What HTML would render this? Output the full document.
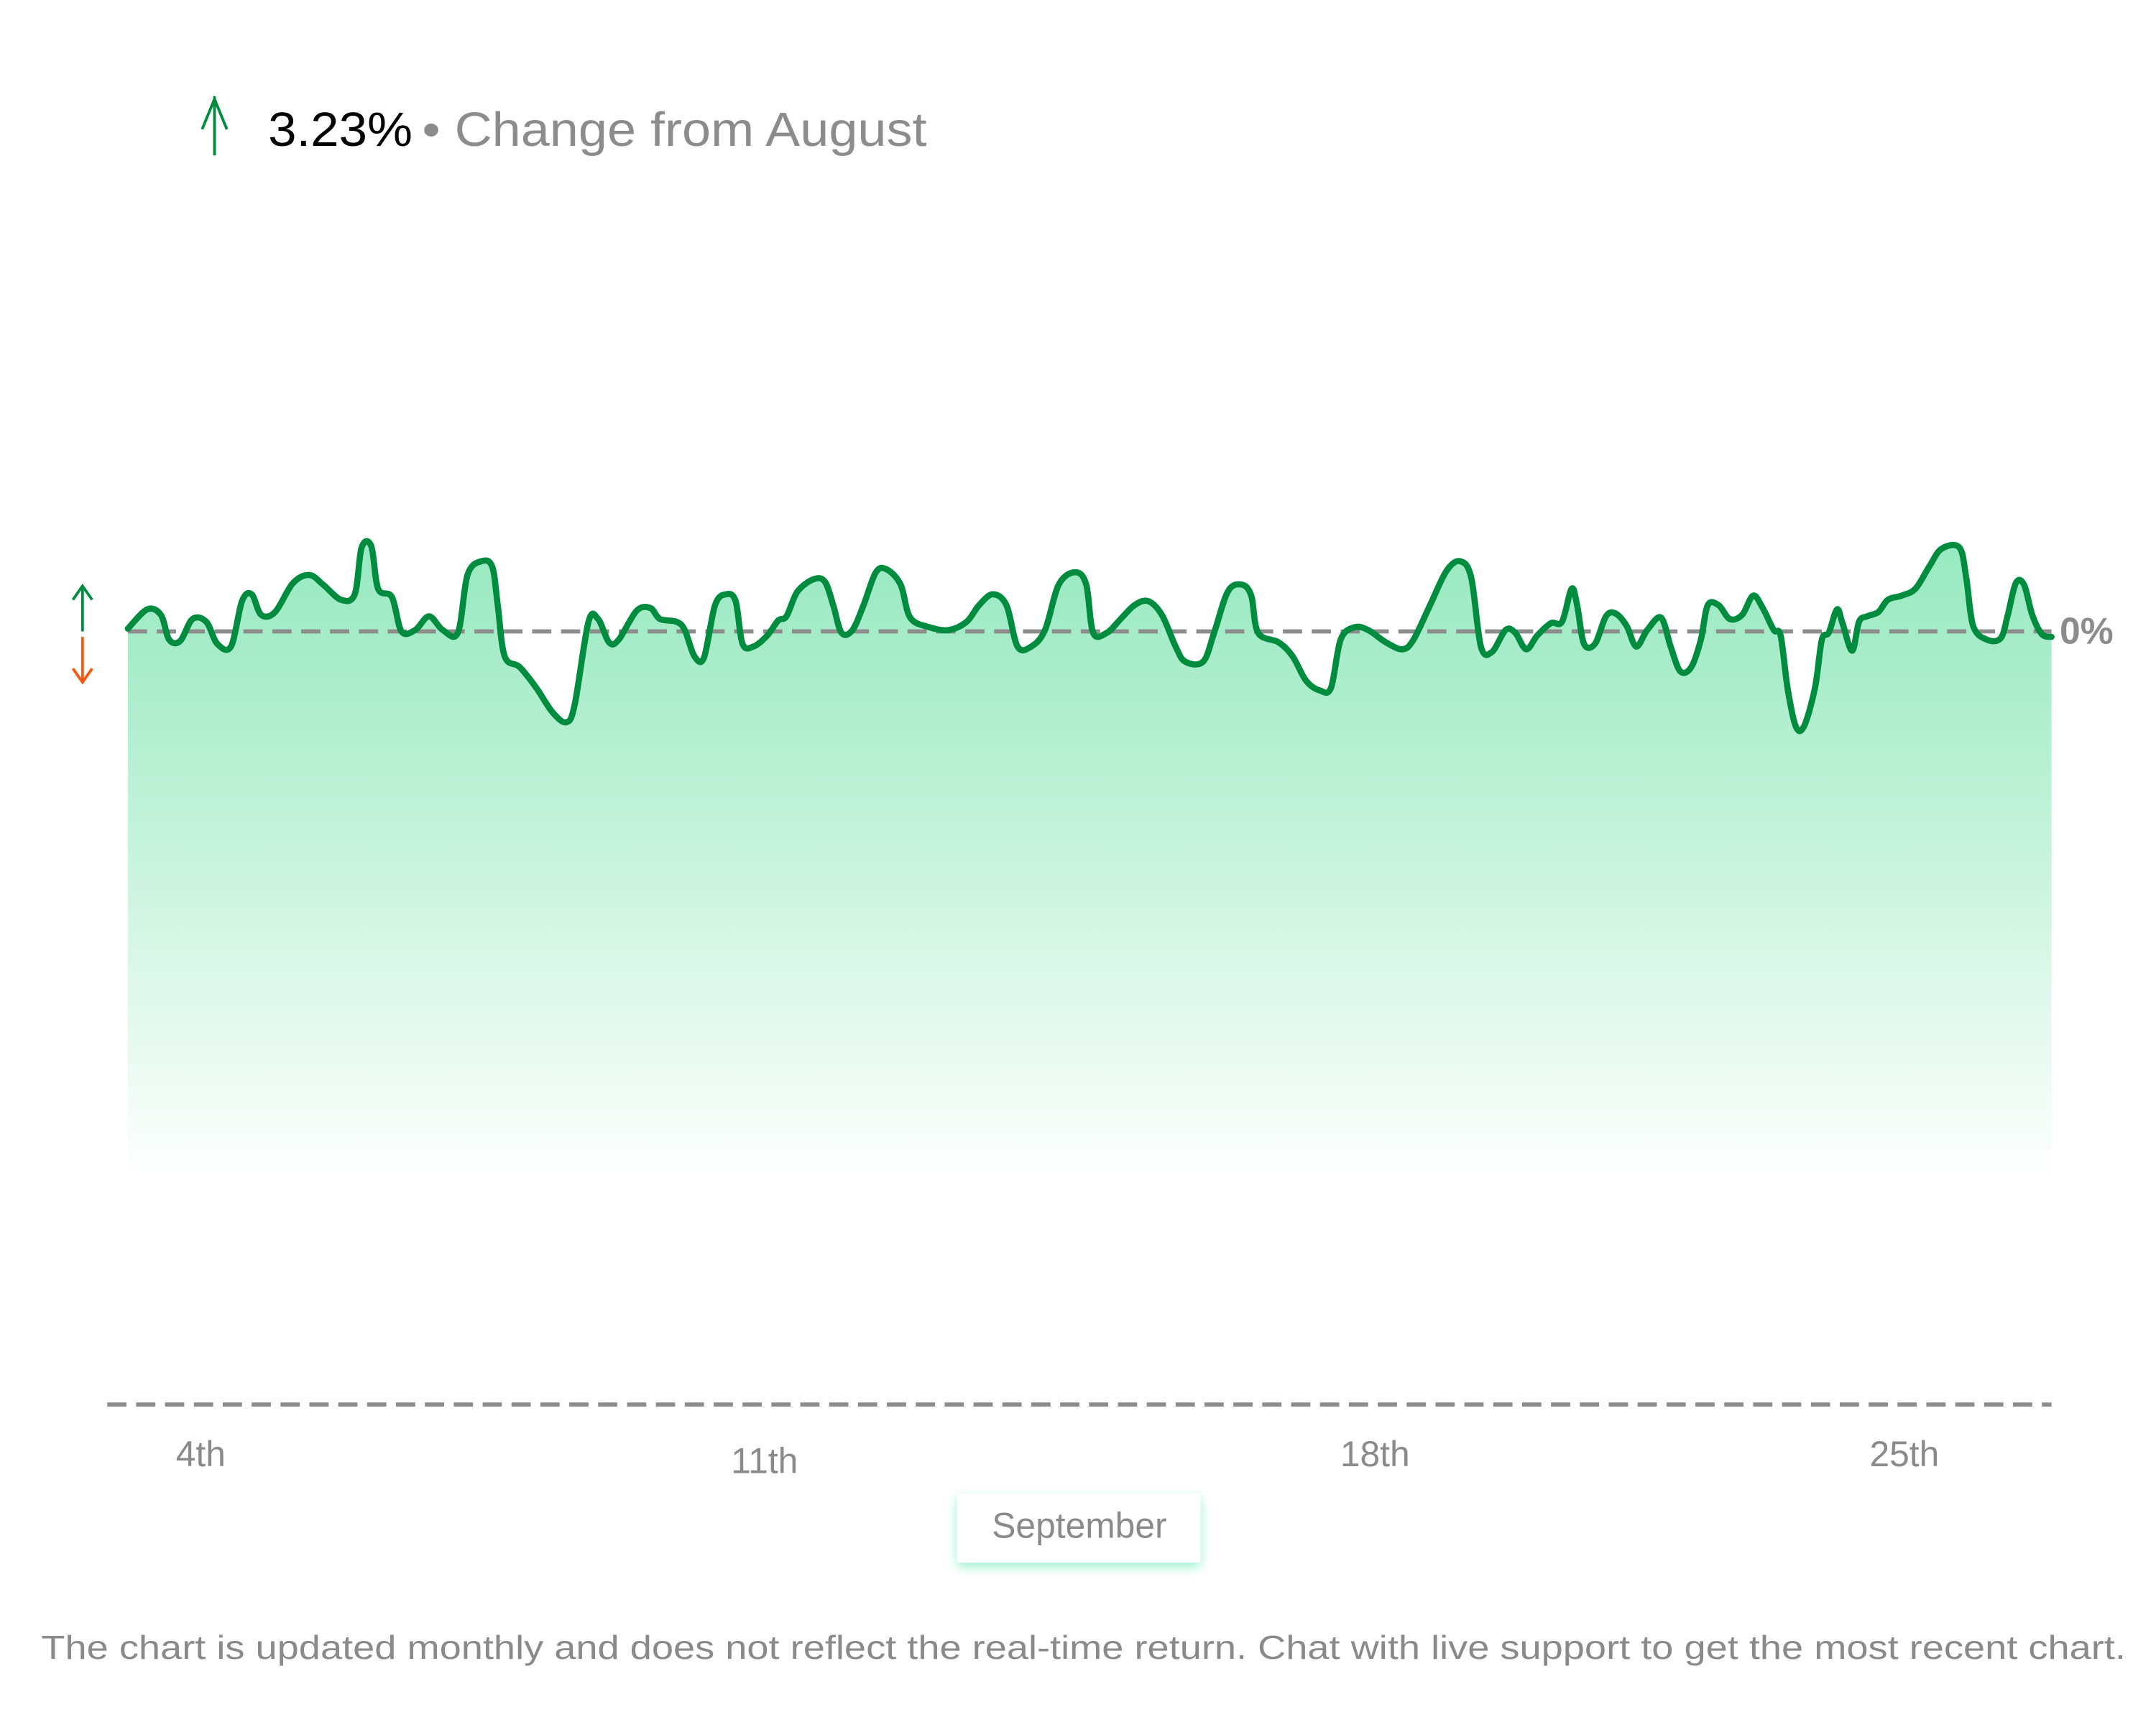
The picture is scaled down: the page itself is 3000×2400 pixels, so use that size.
<!DOCTYPE html>
<html><head><meta charset="utf-8"><style>
html,body{margin:0;padding:0;background:#fff;}
svg{display:block;}
text{font-family:"Liberation Sans",sans-serif;}
</style></head><body>
<svg id="s" width="3000" height="2400" viewBox="0 0 1568 1254" preserveAspectRatio="none" xmlns="http://www.w3.org/2000/svg">
<defs>
<linearGradient id="g" x1="0" y1="0" x2="0" y2="1" gradientUnits="userSpaceOnUse" gradientTransform="" >
</linearGradient>
<linearGradient id="fg" x1="0" y1="395" x2="0" y2="860" gradientUnits="userSpaceOnUse">
<stop offset="0" stop-color="#97e9c0"/>
<stop offset="0.3" stop-color="#b3efd0"/>
<stop offset="1" stop-color="#ffffff"/>
</linearGradient>
<filter id="sh" x="-20%" y="-50%" width="140%" height="200%">
<feDropShadow dx="0" dy="3" stdDeviation="4" flood-color="#7ff0bf" flood-opacity="0.8"/>
</filter>
</defs>
<path id="fill" fill="url(#fg)" stroke="none"/>
<line x1="93" y1="459" x2="1492" y2="459" stroke="#8c8c8c" stroke-width="3" stroke-dasharray="14 7"/>
<line x1="78" y1="1021" x2="1492" y2="1021" stroke="#8c8c8c" stroke-width="3" stroke-dasharray="14 7"/>
<path id="ln" fill="none" stroke="#008c3f" stroke-width="4.5" stroke-linejoin="round" stroke-linecap="round"/>
<text x="1498" y="468" font-size="27" font-weight="bold" fill="#8c8c8c">0%</text>
<!-- small arrows -->
<g stroke="#008c3f" stroke-width="2" fill="none"><line x1="60" y1="426" x2="60" y2="459"/><polyline points="53,436 60,426 67,436"/></g>
<g stroke="#f05a14" stroke-width="2" fill="none"><line x1="60" y1="463" x2="60" y2="496"/><polyline points="53,486 60,496 67,486"/></g>
<!-- header -->
<g stroke="#008c3f" stroke-width="2" fill="none"><line x1="156" y1="70" x2="156" y2="113"/><polyline points="147,94 156,72 165,94"/></g>
<text x="195" y="106" font-size="35" fill="#000" textLength="105" lengthAdjust="spacingAndGlyphs">3.23%</text>
<text x="307" y="106" font-size="35" fill="#8c8c8c" textLength="367" lengthAdjust="spacingAndGlyphs">• Change from August</text>
<!-- ticks -->
<g font-size="26" fill="#8a8a8a" text-anchor="middle">
<text x="146" y="1066">4th</text>
<text x="556" y="1071">11th</text>
<text x="1000" y="1066">18th</text>
<text x="1385" y="1066">25th</text>
</g>
<rect x="696" y="1086" width="177" height="50" fill="#fff" filter="url(#sh)"/>
<text x="785" y="1118" font-size="26" fill="#8a8a8a" text-anchor="middle">September</text>
<text x="788" y="1206" font-size="24" fill="#8a8a8a" text-anchor="middle" textLength="1516" lengthAdjust="spacingAndGlyphs">The chart is updated monthly and does not reflect the real-time return. Chat with live support to get the most recent chart.</text>
</svg>
<script>
var p=[93,457,107,443,117,447,123,465,131,466,140,450,150,452,158,468,168,470,176,437,183,432,190,447,200,445,213,424,225,418,235,425,248,436,258,432,263,398,270,397,275,428,285,434,292,459,302,458,312,448,322,458,333,460,340,418,350,408,358,412,362,440,367,477,378,485,390,500,402,518,412,525,418,512,428,452,435,450,443,467,450,465,463,444,473,442,480,450,492,452,498,458,505,477,512,478,520,440,528,432,535,437,540,468,548,470,558,462,566,451,572,448,580,430,592,421,600,423,606,440,612,460,620,458,628,440,637,416,645,414,655,425,662,449,676,456,690,458,703,452,712,440,722,432,732,440,740,470,750,470,760,458,770,425,782,416,790,425,795,460,805,460,815,450,825,440,835,437,845,447,855,470,862,481,875,481,883,460,893,430,903,425,910,433,915,460,930,467,940,477,950,495,960,502,968,500,975,465,985,456,995,458,1008,467,1020,472,1028,465,1040,440,1052,415,1062,408,1070,420,1077,470,1085,474,1095,458,1102,460,1110,472,1118,462,1128,453,1136,452,1143,428,1147,440,1152,468,1160,468,1168,448,1175,446,1183,455,1190,470,1198,458,1208,449,1215,470,1222,488,1230,485,1237,465,1242,440,1250,440,1258,450,1267,447,1275,433,1282,442,1290,458,1295,462,1300,500,1306,528,1312,528,1320,500,1325,465,1330,460,1336,443,1340,453,1347,473,1352,452,1358,448,1366,445,1373,436,1383,433,1393,428,1403,412,1412,399,1425,398,1430,420,1435,455,1445,465,1455,464,1460,448,1466,424,1472,425,1478,447,1485,461,1492,463];
var pts=[];for(var i=0;i<p.length;i+=2)pts.push([p[i],p[i+1]]);
var d="M"+pts[0][0]+","+pts[0][1];
for(var i=0;i<pts.length-1;i++){
var p0=pts[i-1]||pts[i],p1=pts[i],p2=pts[i+1],p3=pts[i+2]||p2;
var c1x=p1[0]+(p2[0]-p0[0])/6,c1y=p1[1]+(p2[1]-p0[1])/6,c2x=p2[0]-(p3[0]-p1[0])/6,c2y=p2[1]-(p3[1]-p1[1])/6;
d+=" C"+c1x+","+c1y+" "+c2x+","+c2y+" "+p2[0]+","+p2[1];}
document.getElementById("ln").setAttribute("d",d);
document.getElementById("fill").setAttribute("d",d+" L1492,1020 L93,1020 Z");
</script>
</body></html>
